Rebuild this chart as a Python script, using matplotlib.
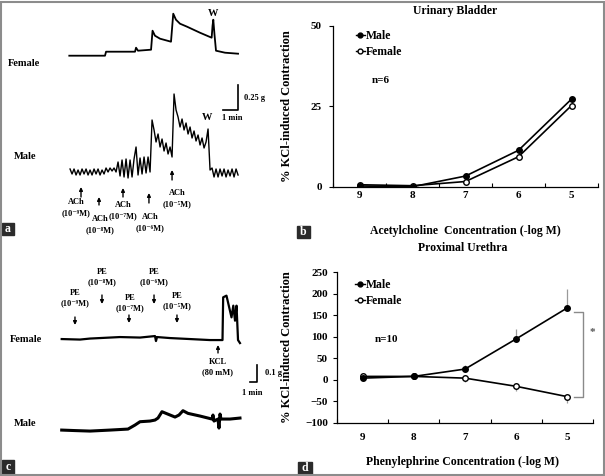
import numpy as np
import matplotlib
matplotlib.use('Agg')
import matplotlib.pyplot as plt
from matplotlib.patches import Rectangle
from matplotlib.lines import Line2D

W, H = 605, 476
plt.rcParams['font.family'] = ['Liberation Serif', 'DejaVu Serif']
plt.rcParams['font.weight'] = 'bold'
plt.rcParams['axes.labelweight'] = 'bold'

# ---- dose-response data (% of KCl-induced contraction) ----
conc = [9, 8, 7, 6, 5]
bladder_male = [0.3, 0.1, 3.4, 11.4, 27.3]
bladder_female = [0.7, 0.4, 1.7, 9.4, 25.3]

urethra_male = [4, 8, 25, 95, 167]
urethra_male_sem = [1, 2, 10, 22, 44]
urethra_female = [8, 8, 4, -15, -39]
urethra_female_sem = [1, 1, 9, 11, 14]

# ---- panel a traces: ACh on bladder strips (time min, tension change g) ----
a_female_t = [0, 2.38, 2.45, 4.38, 4.45, 4.58, 5.45, 5.55, 5.71, 6.05, 6.78, 6.93,
              7.11, 7.38, 7.85, 8.71, 9.49, 9.55, 9.60, 9.68, 9.78, 10.38, 11.25]
a_female_g = [0, 0.0, 0.04, 0.04, 0.08, 0.05, 0.06, 0.25, 0.20, 0.17, 0.14, 0.42,
              0.36, 0.32, 0.29, 0.23, 0.18, 0.30, 0.36, 0.21, 0.05, 0.03, 0.02]
a_male_t0 = 0.05
a_male_dt = 2 / 15  # one sample every 8 s
a_male_g = [0.03, -0.02, 0.03, -0.03, 0.02, -0.03, 0.03, -0.02, 0.03, -0.03,
            0.02, -0.03, 0.03, -0.02, 0.03, -0.03, 0.02, -0.02,
            0.04, 0.0, 0.04, 0.01, 0.04, 0.0,
            0.10, -0.04, 0.12, -0.05, 0.13, -0.06, 0.12, -0.05, 0.13,
            0.25,
            -0.03, 0.14, -0.02, 0.15, -0.01, 0.15, 0.0,
            0.52,
            0.42, 0.30, 0.38, 0.25, 0.33, 0.21, 0.29, 0.18, 0.25, 0.15,
            0.78,
            0.62, 0.55, 0.45, 0.53, 0.42, 0.49, 0.38, 0.45, 0.34, 0.41, 0.31,
            0.37, 0.27, 0.34, 0.24, 0.30,
            0.43, 0.02,
            0.04, -0.05, 0.03, -0.05, 0.03, -0.04, 0.03, -0.05, 0.02, -0.04,
            0.03, -0.05, 0.03, -0.03]
ach_times = [0.78, 1.98, 3.58, 5.31, 6.85]
ach_doses = ['(10⁻⁹M)', '(10⁻⁸M)', '(10⁻⁷M)', '(10⁻⁶M)', '(10⁻⁵M)']

# ---- panel c traces: PE on proximal urethra ----
c_female_t = [0, 2.44, 3.77, 5.11, 7.77, 10.44, 12.44, 12.57, 12.71, 14.44, 17.11,
              19.77, 21.44, 21.53, 21.97, 22.64, 22.88, 23.11, 23.31, 23.51, 23.77]
c_female_g = [0, -0.003, 0.003, 0.006, 0.012, 0.009, 0.018, -0.012, 0.012, 0.006, 0,
              -0.006, -0.006, 0.25, 0.26, 0.13, 0.20, 0.11, 0.20, -0.006, -0.024]
c_male_t = [0, 1.77, 3.77, 6.44, 8.84, 9.77, 10.44, 11.77, 12.44, 12.84, 13.37, 13.91,
            15.11, 15.64, 16.17, 16.84, 18.44, 20.04, 20.17, 20.31, 20.84, 20.97,
            21.11, 21.24, 22.44, 23.77]
c_male_g = [0, -0.003, -0.006, 0, 0.006, 0.03, 0.05, 0.054, 0.06, 0.072, 0.11, 0.10,
            0.078, 0.09, 0.116, 0.10, 0.084, 0.066, 0.09, 0.054, 0.066, 0.012,
            0.096, 0.066, 0.066, 0.072]
pe_times = [1.77, 5.37, 8.97, 12.31, 15.37]
pe_doses = ['(10⁻⁹M)', '(10⁻⁸M)', '(10⁻⁷M)', '(10⁻⁶M)', '(10⁻⁵M)']
kcl_time = 20.84


def px_rect(left, top, right, bottom):
    return [left / W, 1 - bottom / H, (right - left) / W, (bottom - top) / H]


def ftext(x, y, s, size=6, **kw):
    fig.text(x / W, 1 - y / H, s, fontsize=size, fontweight='bold',
             ha=kw.pop('ha', 'center'), va=kw.pop('va', 'center'), **kw)


def arrow(ax, t, y_tail, y_tip):
    ax.annotate('', xy=(t, H - y_tip), xycoords=('data', 'figure pixels'),
                xytext=(t, H - y_tail), textcoords=('data', 'figure pixels'),
                arrowprops=dict(arrowstyle='-|>', lw=1.0, color='k',
                                mutation_scale=5, shrinkA=0, shrinkB=0))


fig = plt.figure(figsize=(W / 100, H / 100), dpi=100)

# ================= panel a =================
axa = fig.add_axes(px_rect(0, 0, 300, 238))
axa.set_xlim(-69.3 / 15, (300 - 69.3) / 15)   # 15 px per min
axa.set_ylim(0, 2.38)                          # 100 px per g
axa.axis('off')
fem_base, male_base = 1.823, 0.66
axa.plot(a_female_t, np.array(a_female_g) + fem_base, color='k', lw=1.3)
male_t = a_male_t0 + a_male_dt * np.arange(len(a_male_g))
axa.plot(male_t, np.array(a_male_g) + male_base, color='k', lw=1.0)
# scale bar 0.25 g / 1 min
axa.plot([10.27, 11.27, 11.27], [1.28, 1.28, 1.53], color='k', lw=1.2)
ftext(244, 98, '0.25 g', ha='left')
ftext(232, 118, '1 min')
ftext(24, 63, 'Female', size=7.5)
ftext(25, 157, 'Male', size=7.5)
ftext(213, 14, 'W', size=7.5)
ftext(207, 117, 'W', size=7.5)
ach_arrow_y = [(197, 187), (205, 197), (197, 188), (203, 193), (180, 170)]
ach_label_xy = [(76, 202), (100, 219), (123, 205), (150, 217), (177, 193)]
for t, (y0, y1), (lx, ly), dose in zip(ach_times, ach_arrow_y, ach_label_xy, ach_doses):
    arrow(axa, t, y0, y1)
    ftext(lx, ly, 'ACh')
    ftext(lx, ly + 11, dose)

# ================= panel c =================
axc = fig.add_axes(px_rect(0, 240, 300, 476))
axc.set_xlim(-61.7 / 7.5, (300 - 61.7) / 7.5)  # 7.5 px per min
axc.set_ylim(0, 236 / 167)                      # 167 px per g
axc.axis('off')
axc.plot(c_female_t, np.array(c_female_g) + 0.820, color='k', lw=1.6)
axc.plot(c_male_t, np.array(c_male_g) + 0.275, color='k', lw=2.2)
axc.plot([25.04, 26.04, 26.04], [0.565, 0.565, 0.665], color='k', lw=1.2)
ftext(265, 373, '0.1 g', ha='left')
ftext(252, 393, '1 min')
ftext(26, 339, 'Female', size=7.5)
ftext(25, 424, 'Male', size=7.5)
pe_arrow_y = [(317, 325), (295, 304), (315, 323), (295, 304), (315, 323)]
pe_label_xy = [(75, 293), (102, 272), (130, 298), (154, 272), (177, 296)]
for t, (y0, y1), (lx, ly), dose in zip(pe_times, pe_arrow_y, pe_label_xy, pe_doses):
    arrow(axc, t, y0, y1)
    ftext(lx, ly, 'PE')
    ftext(lx, ly + 10, dose)
arrow(axc, kcl_time, 353, 345)
ftext(218, 362, 'KCL')
ftext(218, 372, '(80 mM)')


# ================= dose-response panels =================
def dose_axes(rect, ylim, yticks, xpad, ypad):
    ax = fig.add_axes(rect)
    ax.set_xlim(9.5, 4.5)
    ax.set_ylim(*ylim)
    ax.set_xticks(conc)
    ax.set_xticks([9.5, 8.5, 7.5, 6.5, 5.5, 4.5], minor=True)
    ax.set_yticks(yticks)
    ax.tick_params(axis='x', which='major', length=0, pad=xpad, labelsize=8)
    ax.tick_params(axis='x', which='minor', direction='in', length=3, width=0.8)
    ax.tick_params(axis='y', direction='out', length=3, width=0.8, pad=ypad, labelsize=8)
    for lab in ax.get_xticklabels() + ax.get_yticklabels():
        lab.set_fontweight('bold')
    for s in ['top', 'right']:
        ax.spines[s].set_visible(False)
    for s in ['left', 'bottom']:
        ax.spines[s].set_linewidth(0.9)
    return ax


def add_legend(ax, x, y):
    h = [Line2D([], [], color='k', lw=1.0, marker='o', ms=3.5, mfc='k', mec='k'),
         Line2D([], [], color='k', lw=1.0, marker='o', ms=3.5, mfc='white', mec='k')]
    ax.legend(h, ['Male', 'Female'], loc='upper left', bbox_to_anchor=(x, y),
              frameon=False, handlelength=0.8, handletextpad=0.1, borderpad=0,
              borderaxespad=0, labelspacing=0.35, prop={'size': 8.5, 'weight': 'bold'})


# panel b
axb = dose_axes(px_rect(333, 26, 598, 187), (0, 50), [0, 25, 50], 3, 5)
axb.plot(conc, bladder_female, color='k', lw=1.2, marker='o', ms=4, mfc='white', mec='k', zorder=3)
axb.plot(conc, bladder_male, color='k', lw=1.2, marker='o', ms=4, mfc='k', mec='k', zorder=4)
axb.set_xlabel('Acetylcholine  Concentration (-log M)', fontsize=8.5)
axb.xaxis.set_label_coords(0.498, -0.235)
axb.set_ylabel('% KCl-induced Contraction', fontsize=9)
axb.yaxis.set_label_coords(-0.151, 0.5)
axb.text(0.46, 1.094, 'Urinary Bladder', transform=axb.transAxes, ha='center', va='center',
         fontsize=8.5, fontweight='bold')
axb.text(0.148, 0.66, 'n=6', transform=axb.transAxes, ha='left', va='center',
         fontsize=8, fontweight='bold')
add_legend(axb, 0.085, 0.975)

# panel d
axd = dose_axes(px_rect(337, 272, 593, 423), (-100, 250), list(range(-100, 251, 50)), 7, 3.5)
axd.errorbar(conc, urethra_male, yerr=[np.zeros(5), urethra_male_sem], fmt='none',
             ecolor='#9a9a9a', elinewidth=0.9, capsize=0, zorder=1)
axd.errorbar(conc, urethra_female, yerr=[urethra_female_sem, np.zeros(5)], fmt='none',
             ecolor='#9a9a9a', elinewidth=0.9, capsize=0, zorder=1)
axd.plot(conc, urethra_female, color='k', lw=1.2, marker='o', ms=4, mfc='white', mec='k', zorder=3)
axd.plot(conc, urethra_male, color='k', lw=1.2, marker='o', ms=4, mfc='k', mec='k', zorder=4)
axd.plot([4.88, 4.69, 4.69, 4.88], [157, 157, -39, -39], color='#8a8a8a', lw=1.0, clip_on=False)
axd.text(4.51, 109, '*', ha='center', va='center', fontsize=8, color='#555555')
axd.set_xlabel('Phenylephrine Concentration (-log M)', fontsize=8.5)
axd.xaxis.set_label_coords(0.49, -0.22)
axd.set_ylabel('% KCl-induced Contraction', fontsize=9)
axd.yaxis.set_label_coords(-0.172, 0.5)
axd.text(0.49, 1.159, 'Proximal Urethra', transform=axd.transAxes, ha='center', va='center',
         fontsize=8.5, fontweight='bold')
axd.text(0.148, 0.55, 'n=10', transform=axd.transAxes, ha='left', va='center',
         fontsize=8, fontweight='bold')
add_legend(axd, 0.072, 0.955)

# ---- panel letters and outer frame ----
for letter, (x0, y0, x1, y1) in zip('abcd', [(2, 223, 14, 235), (297, 226, 310, 238),
                                             (2, 460, 14, 474), (298, 462, 312, 474)]):
    fig.patches.append(Rectangle((x0 / W, 1 - y1 / H), (x1 - x0) / W, (y1 - y0) / H,
                                 transform=fig.transFigure, color='#2b2b2b', zorder=5))
    fig.text((x0 + x1) / 2 / W, 1 - (y0 + y1) / 2 / H, letter, color='white',
             fontsize=8.5, fontweight='bold', ha='center', va='center', zorder=6)
fig.patches.append(Rectangle((1 / W, 1 / H), (W - 2.5) / W, (H - 2.5) / H,
                             transform=fig.transFigure, fill=False, edgecolor='#8c8c8c',
                             lw=1.5, zorder=7))

fig.savefig('out.png', dpi=100)
